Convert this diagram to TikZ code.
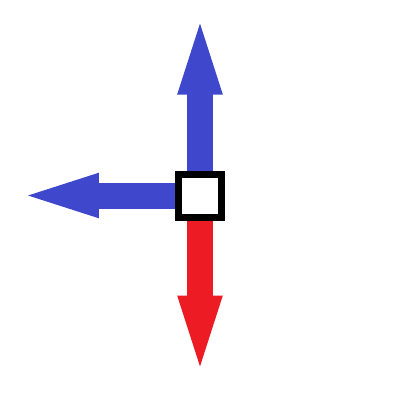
\documentclass[tikz,border=0pt]{standalone}
\usetikzlibrary{arrows.meta,positioning}
\definecolor{pointerBlue}{RGB}{63, 72, 204}
\definecolor{pointerRed}{RGB}{237, 28, 36}

\begin{document}
\begin{tikzpicture}[
  box/.style={
    draw=black,
    fill=white,
    line width=0.7mm,
    minimum size=4.3mm,
    inner sep=0pt
  },
  arrow/.style={
    line width=2.6mm,
    -{Triangle[length=7.1mm,width=4.5mm,line width=0.25mm]}
  }
]
  \useasboundingbox (0,0) rectangle (4,4);
  \node[box] (box) at (2.0,2.045) {};
  \coordinate[above=1.47cm of box] (upTip);
  \coordinate[left=1.47cm of box] (leftTip);
  \coordinate[below=1.46cm of box] (downTip);
  \draw[arrow,pointerBlue] (box.north) -- (upTip);
  \draw[arrow,pointerBlue] (box.west) -- (leftTip);
  \draw[arrow,pointerRed] (box.south) -- (downTip);
\end{tikzpicture}
\end{document}
